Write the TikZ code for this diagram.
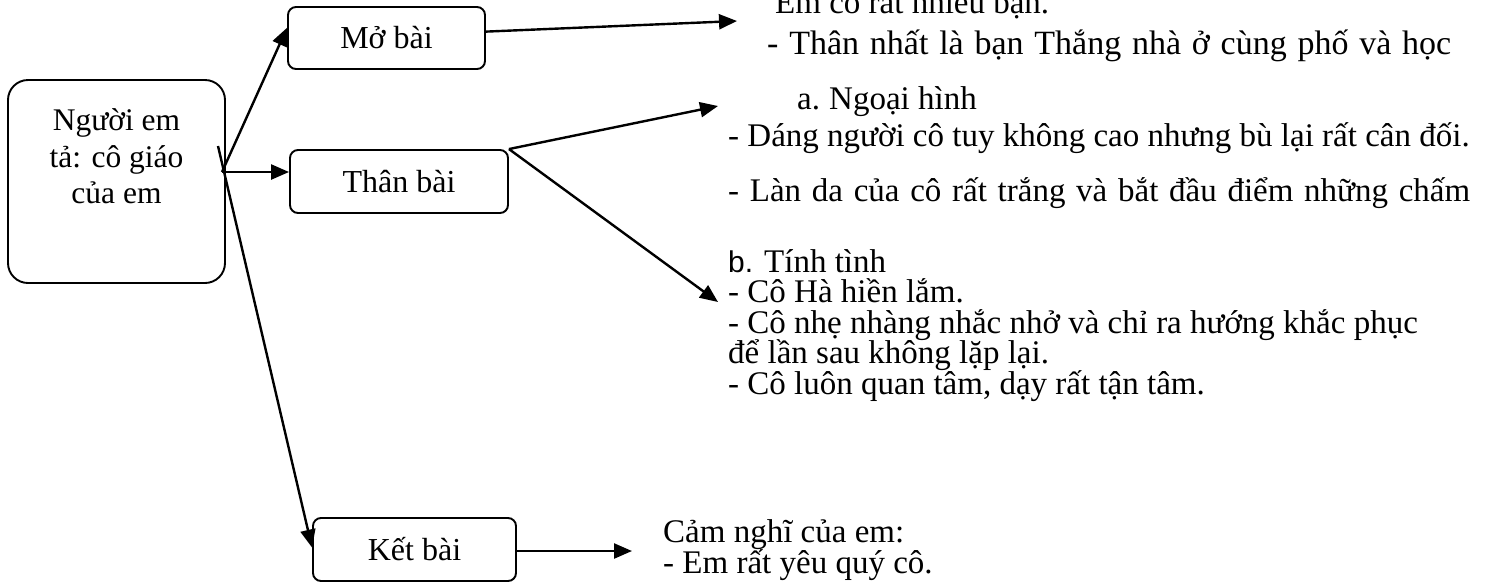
\documentclass[tikz,border=0pt]{standalone}
\usepackage{fontspec}
\setmainfont{Liberation Serif}
\newfontfamily\sansb{Liberation Sans}
\usetikzlibrary{arrows.meta,calc}
\begin{document}
\begin{tikzpicture}[x=1pt,y=-1pt,
  box/.style={draw,line width=1.9pt,rounded corners=8pt,inner sep=0pt,font=\fontsize{32}{36}\selectfont},
  conn/.style={line width=2.4pt,-{Triangle[length=18pt,width=15pt]}},
  bodytext/.style={anchor=base west,inner sep=0pt,font=\fontsize{33}{36}\selectfont},
  rootline/.style={anchor=base,inner sep=0pt,font=\fontsize{31.5}{36}\selectfont},
]
\useasboundingbox (0,0) rectangle (1493,582);

% left root box
\node[box,rounded corners=20pt,minimum width=217pt,minimum height=203pt] (root) at (116.5,181.5) {};
\node[rootline] (r1) at (116.5,130) {Người em};
\node[rootline] (r2) at (116.5,167) {tả: cô giáo};
\node[rootline] (r3) at (116.5,203) {của em};

% section boxes
\node[box,minimum width=197pt,minimum height=62pt] (mo) at (386.5,38) {Mở bài};
\node[box,minimum width=218pt,minimum height=63pt] (than) at (399,181.5) {Thân bài};
\node[box,minimum width=203pt,minimum height=63pt] (ket) at (414.5,549.5) {Kết bài};

% connectors from root
\coordinate (hub) at (222,172);
\coordinate (kstart) at (218,146);
\draw[conn] (hub) -- ($(mo.north west)!0.34!(mo.south west)$);
\draw[conn] (hub) -- (than.west |- hub);
\draw[conn] (kstart) -- ($(ket.north west)!0.47!(ket.south west)$);

% connectors to content
\coordinate (moend) at (737,21);
\coordinate (nh) at (718,106);
\coordinate (tt) at (718,302);
\coordinate (kend) at (632,551);
\draw[conn] ($(mo.north east)!0.4!(mo.south east)$) -- (moend);
\draw[conn] (than.north east) -- (nh);
\draw[conn] (than.north east) -- (tt);
\draw[conn] (ket.east |- kend) -- (kend);

% texts
\node[bodytext] (t1) at (775,13) {Em có rất nhiều bạn.};
\node[bodytext,font=\fontsize{34}{36}\selectfont] (t2) at (767,54) {\makebox[684pt][s]{- Thân nhất là bạn Thắng nhà ở cùng phố và học}};
\node[bodytext] (t3) at (797,109) {\makebox[32pt][l]{a.}Ngoại hình};
\node[bodytext] (t4) at (728,146) {- Dáng người cô tuy không cao nhưng bù lại rất cân đối.};
\node[bodytext] (t5) at (728,201) {\makebox[742pt][s]{- Làn da của cô rất trắng và bắt đầu điểm những chấm}};
\node[bodytext] (t6) at (728,272) {{\sansb\fontsize{30}{36}\selectfont b.} Tính tình};
\node[bodytext] (t7) at (728,302) {- Cô Hà hiền lắm.};
\node[bodytext] (t8) at (728,333) {- Cô nhẹ nhàng nhắc nhở và chỉ ra hướng khắc phục};
\node[bodytext] (t9) at (728,363) {để lần sau không lặp lại.};
\node[bodytext] (t10) at (728,394) {- Cô luôn quan tâm, dạy rất tận tâm.};
\node[bodytext] (t11) at (663,542) {Cảm nghĩ của em:};
\node[bodytext] (t12) at (663,573) {- Em rất yêu quý cô.};
\end{tikzpicture}
\end{document}
